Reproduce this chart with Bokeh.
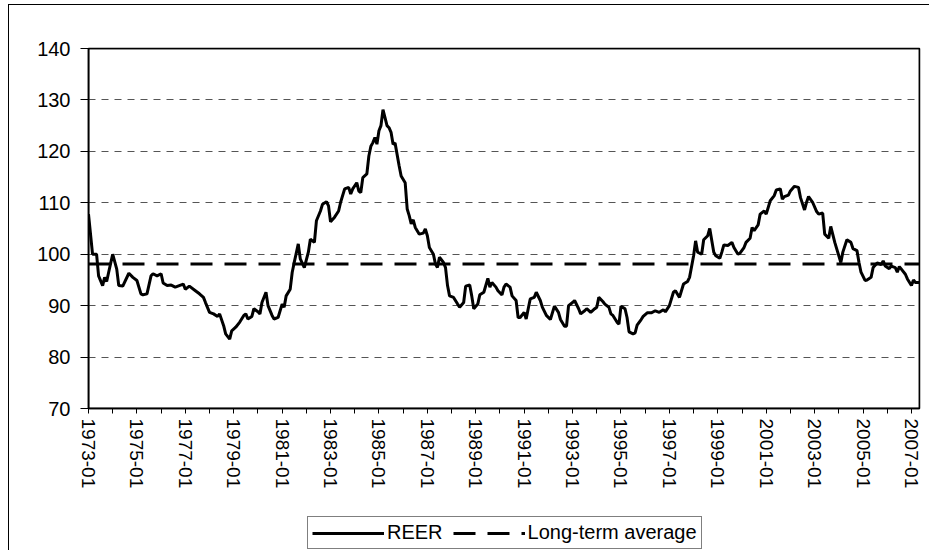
import math
from bokeh.plotting import figure
from bokeh.layouts import column
from bokeh.models import ColumnDataSource, FixedTicker, Legend, LegendItem, Range1d, BoxAnnotation
from bokeh.embed import file_html
from bokeh.resources import INLINE

# ---- data ----
dates = [
    "1973-01", "1973-03", "1973-05", "1973-06", "1973-08", "1973-09", "1973-10", "1973-11",
    "1974-01", "1974-03", "1974-04", "1974-06", "1974-09", "1974-11",
    "1975-01", "1975-03", "1975-04", "1975-06", "1975-08", "1975-09", "1975-11",
    "1976-01", "1976-02", "1976-04", "1976-06", "1976-08", "1976-10", "1976-12",
    "1977-01", "1977-03", "1977-06", "1977-08", "1977-10", "1977-11",
    "1978-01", "1978-03", "1978-05", "1978-06", "1978-08", "1978-09", "1978-11", "1978-12",
    "1979-02", "1979-04", "1979-06", "1979-07", "1979-08", "1979-10", "1979-11",
    "1980-01", "1980-02", "1980-03", "1980-05", "1980-06", "1980-08", "1980-09", "1980-11",
    "1981-01", "1981-02", "1981-03", "1981-05", "1981-06", "1981-07", "1981-09", "1981-10", "1981-12",
    "1982-02", "1982-03", "1982-05", "1982-06", "1982-08", "1982-09", "1982-11", "1982-12",
    "1983-01", "1983-03", "1983-05", "1983-06", "1983-08", "1983-10", "1983-11", "1983-12",
    "1984-02", "1984-03", "1984-04", "1984-05", "1984-07", "1984-08", "1984-09", "1984-10", "1984-11", "1984-12",
    "1985-01", "1985-02", "1985-03", "1985-05", "1985-06", "1985-07", "1985-08", "1985-09", "1985-11", "1985-12",
    "1986-02", "1986-03", "1986-04", "1986-05", "1986-06", "1986-07", "1986-09", "1986-11", "1986-12",
    "1987-01", "1987-02", "1987-04", "1987-05", "1987-06", "1987-07", "1987-09", "1987-10", "1987-11", "1987-12",
    "1988-02", "1988-04", "1988-05", "1988-07", "1988-08", "1988-10", "1988-11", "1988-12",
    "1989-02", "1989-03", "1989-05", "1989-07", "1989-08", "1989-09", "1989-11", "1989-12",
    "1990-02", "1990-03", "1990-04", "1990-06", "1990-07", "1990-09", "1990-10", "1990-11",
    "1991-01", "1991-02", "1991-03", "1991-04", "1991-06", "1991-07", "1991-09", "1991-10", "1991-12",
    "1992-02", "1992-04", "1992-06", "1992-07", "1992-09", "1992-10", "1992-11",
    "1993-01", "1993-02", "1993-04", "1993-05", "1993-07", "1993-08", "1993-10", "1993-12",
    "1994-01", "1994-02", "1994-04", "1994-05", "1994-07", "1994-08", "1994-09", "1994-11", "1994-12",
    "1995-01", "1995-03", "1995-04", "1995-05", "1995-07", "1995-08", "1995-09", "1995-11", "1995-12",
    "1996-02", "1996-04", "1996-06", "1996-08", "1996-10", "1996-11",
    "1997-01", "1997-03", "1997-04", "1997-06", "1997-08", "1997-10", "1997-11",
    "1998-01", "1998-02", "1998-03", "1998-05", "1998-06", "1998-08", "1998-09", "1998-11", "1998-12",
    "1999-02", "1999-03", "1999-04", "1999-06", "1999-08", "1999-09", "1999-11", "1999-12",
    "2000-02", "2000-03", "2000-05", "2000-06", "2000-07", "2000-09", "2000-10", "2000-12",
    "2001-01", "2001-03", "2001-05", "2001-06", "2001-08", "2001-09", "2001-10", "2001-12",
    "2002-01", "2002-03", "2002-05", "2002-06", "2002-08", "2002-09", "2002-10", "2002-12",
    "2003-02", "2003-03", "2003-05", "2003-06", "2003-08", "2003-09", "2003-11", "2003-12",
    "2004-02", "2004-03", "2004-05", "2004-07", "2004-08", "2004-10", "2004-11", "2004-12",
    "2005-02", "2005-03", "2005-05", "2005-06", "2005-08", "2005-10", "2005-11", "2005-12",
    "2006-02", "2006-03", "2006-05", "2006-06", "2006-07", "2006-08", "2006-10", "2006-11",
    "2007-01", "2007-02", "2007-03", "2007-05",
]
reer = [
    107.8, 100.0, 100.0, 95.8, 93.9, 95.5, 94.7, 96.5,
    100.0, 97.1, 93.9, 93.8, 96.3, 95.5,
    94.9, 92.3, 92.1, 92.3, 95.8, 96.2, 95.8,
    96.2, 94.4, 93.9, 94.0, 93.6, 93.9, 94.2,
    93.2, 93.8, 92.9, 92.3, 91.6, 90.6,
    88.7, 88.4, 87.9, 88.4, 86.1, 84.5, 83.5, 85.1,
    85.8, 86.8, 88.1, 88.4, 87.4, 87.9, 89.4,
    88.8, 88.4, 90.6, 92.6, 90.0, 88.1, 87.4, 87.7,
    90.3, 89.7, 91.9, 93.2, 96.5, 98.4, 102.0, 99.1, 97.4,
    100.4, 102.9, 102.3, 106.5, 108.4, 109.7, 110.2, 109.4,
    106.3, 107.2, 108.4, 110.1, 112.7, 113.0, 111.7, 112.7,
    113.9, 112.3, 112.0, 114.9, 115.6, 119.1, 121.0, 121.7, 122.7, 121.4,
    124.0, 125.0, 128.1, 125.0, 124.6, 123.7, 121.4, 121.6, 117.2, 115.2,
    113.9, 108.8, 107.5, 105.9, 106.7, 105.2, 103.9, 104.1, 104.9,
    103.6, 101.3, 100.0, 98.1, 97.4, 99.4, 98.4, 97.4, 93.9, 91.9,
    91.6, 90.3, 89.7, 90.6, 93.8, 94.0, 91.9, 89.4,
    90.3, 92.1, 92.6, 95.3, 93.6, 94.5, 93.6, 92.9,
    92.1, 93.6, 94.2, 93.6, 91.9, 91.0, 87.7, 87.7,
    88.7, 87.4, 89.4, 91.3, 91.6, 92.6, 91.0, 89.7, 88.1,
    87.3, 89.9, 88.7, 87.3, 86.0, 86.0, 90.0,
    90.6, 91.0, 89.4, 88.4, 89.0, 89.4, 88.7, 89.4,
    89.7, 91.6, 90.8, 90.3, 89.7, 88.4, 88.1, 86.8, 86.4,
    89.9, 89.4, 87.7, 84.9, 84.5, 84.7, 86.2, 87.3, 87.9,
    88.6, 88.6, 89.0, 88.7, 89.2, 88.8,
    90.0, 92.6, 92.9, 91.6, 94.2, 94.7, 95.5,
    99.7, 102.6, 100.4, 100.0, 102.8, 103.6, 105.0, 100.4, 99.7,
    99.2, 100.4, 101.8, 101.7, 102.3, 101.3, 100.0, 100.2,
    101.3, 102.3, 103.1, 105.2, 104.6, 105.7, 107.8, 108.4,
    107.8, 110.4, 111.4, 112.5, 112.7, 110.7, 111.2, 111.5,
    112.3, 113.2, 113.0, 111.0, 108.6, 110.1, 111.2, 110.1,
    108.3, 107.8, 108.0, 103.9, 103.1, 105.4, 102.3, 101.0,
    98.4, 100.4, 102.8, 102.3, 101.1, 100.7, 98.4, 96.5,
    94.9, 95.0, 95.5, 97.4, 98.3, 98.0, 98.7, 97.7,
    97.2, 97.7, 97.4, 96.5, 97.6, 97.1, 96.1, 95.2,
    93.9, 95.0, 94.5, 94.5,
]
long_term_average = 98.1
tick_years = list(range(1973, 2008))
label_years = list(range(1973, 2008, 2))
y_ticks = [70, 80, 90, 100, 110, 120, 130, 140]
series_names = ["REER", "Long-term average"]


def month_index(s):
    y, m = s.split("-")
    return (int(y) - 1973) * 12 + int(m) - 1


x = [month_index(d) for d in dates]
src = ColumnDataSource(dict(x=x, reer=reer, date=dates))
avg_src = ColumnDataSource(dict(x=[x[0], x[-1]], avg=[long_term_average, long_term_average]))

font = "Liberation Sans"
reer_style = dict(line_color="black", line_width=3)
avg_style = dict(line_color="black", line_width=3, line_dash="22 12")

# ---- main chart ----
p = figure(width=920, height=500, output_backend="svg", toolbar_location=None,
           x_range=Range1d(x[0], x[-1]), y_range=Range1d(70, 140),
           min_border_left=79, min_border_right=10, min_border_top=43, min_border_bottom=97)
p.outline_line_color = "black"
p.outline_line_width = 1.5
p.background_fill_color = "white"
p.border_fill_color = "white"

# plot-area frame
p.add_layout(BoxAnnotation(fill_color=None, fill_alpha=0, line_color="black",
                           line_width=1.5, line_alpha=1))

r_reer = p.line("x", "reer", source=src, **reer_style)
r_avg = p.line("x", "avg", source=avg_src, **avg_style)

p.xgrid.visible = False
p.ygrid.ticker = FixedTicker(ticks=y_ticks)
p.ygrid.grid_line_color = "#555555"
p.ygrid.grid_line_dash = "7 6"
p.ygrid.grid_line_width = 1

ya = p.yaxis[0]
ya.ticker = FixedTicker(ticks=y_ticks)
ya.major_tick_out = 8
ya.major_tick_in = 0
ya.minor_tick_line_color = None
ya.axis_line_color = "black"
ya.axis_line_width = 1.5
ya.major_tick_line_color = "black"
ya.major_label_text_font = font
ya.major_label_text_font_size = "20px"
ya.major_label_text_color = "black"
ya.major_label_standoff = 10

xa = p.xaxis[0]
xticks = [(yr - 1973) * 12 for yr in tick_years]
xa.ticker = FixedTicker(ticks=xticks)
xa.major_label_overrides = {t: (f"{yr}-01" if yr in label_years else "") for t, yr in zip(xticks, tick_years)}
xa.major_tick_out = 5
xa.major_tick_in = 0
xa.minor_tick_line_color = None
xa.axis_line_color = "black"
xa.axis_line_width = 1.5
xa.major_tick_line_color = "black"
xa.major_label_orientation = -math.pi / 2
xa.major_label_text_font = font
xa.major_label_text_font_size = "19px"
xa.major_label_text_color = "black"
xa.major_label_standoff = 5

# ---- legend strip below the chart (its frame is aligned with the chart's frame) ----
q = figure(width=920, height=45, output_backend="svg", toolbar_location=None,
           x_range=Range1d(0, 1), y_range=Range1d(0, 1),
           x_axis_location=None, y_axis_location=None,
           min_border=0)
q.grid.visible = False
q.outline_line_color = None
q.background_fill_color = "white"
q.border_fill_color = "white"
# legend-only renderers: their points lie outside the strip's visible range
l_reer = q.line(x=[5, 6], y=[5, 6], **reer_style)
l_avg = q.line(x=[5, 6], y=[5, 6], **avg_style)

legend = Legend(items=[LegendItem(label=series_names[0], renderers=[l_reer]),
                       LegendItem(label=series_names[1], renderers=[l_avg])],
                orientation="horizontal", location=(219, 1))
legend.border_line_color = "black"
legend.border_line_width = 1
legend.background_fill_alpha = 1
legend.label_text_font = font
legend.label_text_font_size = "20px"
legend.label_text_color = "black"
legend.glyph_width = 72
legend.label_standoff = 3
legend.spacing = 10
legend.padding = 4
legend.margin = 0
q.add_layout(legend, "center")

layout = column(p, q, spacing=0,
                styles={"margin-left": "8px", "margin-top": "4px",
                        "border-left": "1px solid black", "border-top": "1px solid black"})

open("out.html", "w").write(file_html(layout, INLINE))
